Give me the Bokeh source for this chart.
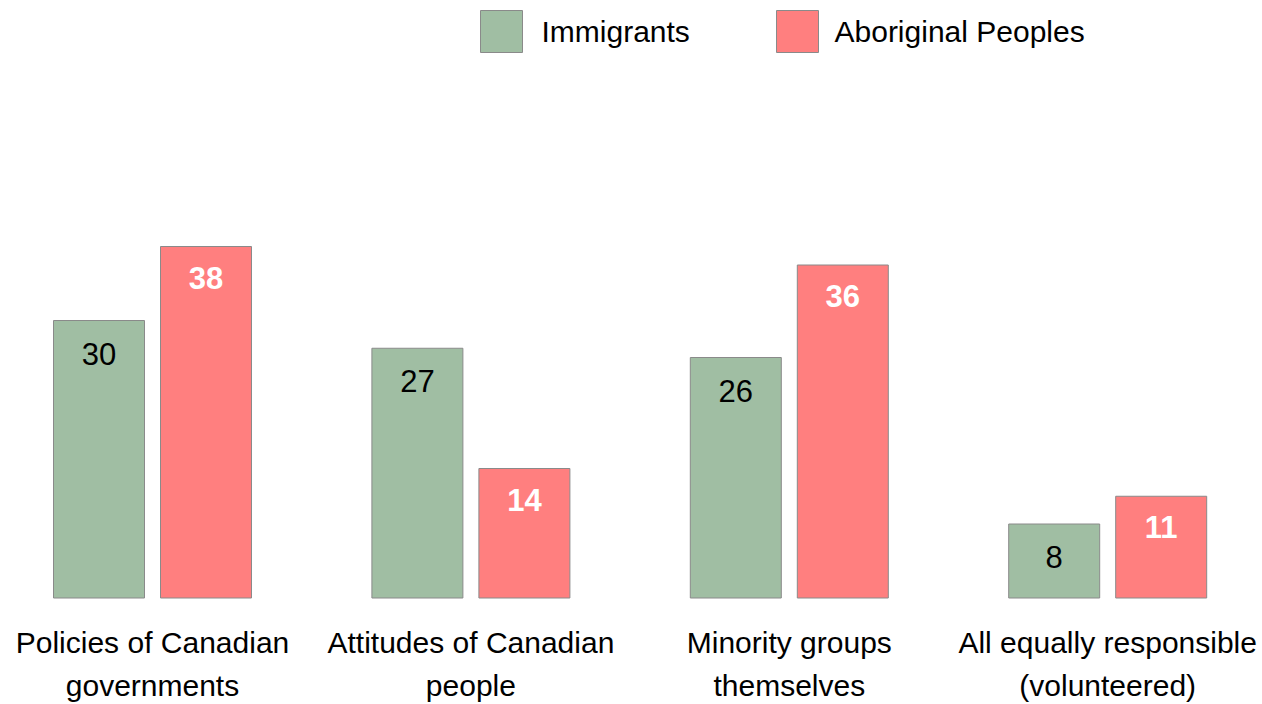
from bokeh.plotting import figure
from bokeh.models import ColumnDataSource, Range1d
from bokeh.embed import file_html
from bokeh.resources import INLINE
from bokeh.core.properties import value

categories = ["Policies of Canadian\ngovernments", "Attitudes of Canadian\npeople",
              "Minority groups\nthemselves", "All equally responsible\n(volunteered)"]
immigrants = [30, 27, 26, 8]
aboriginal = [38, 14, 36, 11]
series_names = ["Immigrants", "Aboriginal Peoples"]

FONT = "Liberation Sans"
GREEN = "#a0bea3"
RED = "#ff7f7f"
BORDER = "#8a8a8a"

W, H = 1262, 704
px_per_cat = 318.4
x0 = 152.0          # pixel x of first group centre
baseline = 597.5    # pixel y of bar bottoms
ppu = 9.25          # pixels per unit

xs = list(range(len(categories)))
off = 53.5 / px_per_cat
bw = 91.0 / px_per_cat

def px_to_x(px):
    return (px - x0) / px_per_cat

def py_to_y(py):
    return (baseline - py) / ppu

src = ColumnDataSource(dict(
    xg=[x - off for x in xs], xr=[x + off for x in xs],
    imm=immigrants, abo=aboriginal,
    imm_t=[str(v) for v in immigrants], abo_t=[str(v) for v in aboriginal],
    xc=xs, cat=categories, zero=[0] * len(xs),
))

p = figure(width=W, height=H, output_backend="svg", toolbar_location=None,
           x_range=Range1d(px_to_x(0), px_to_x(W)),
           y_range=Range1d(py_to_y(H), py_to_y(0)),
           min_border=0, outline_line_color=None)
p.axis.visible = False
p.grid.visible = False

p.vbar(x="xg", top="imm", bottom=0, width=bw, source=src,
       fill_color=GREEN, line_color=BORDER, line_width=1)
p.vbar(x="xr", top="abo", bottom=0, width=bw, source=src,
       fill_color=RED, line_color=BORDER, line_width=1)

p.text(x="xg", y="imm", text="imm_t", source=src, y_offset=33,
       text_align="center", text_baseline="middle",
       text_font=value(FONT), text_font_size="31px", text_color="black")
p.text(x="xr", y="abo", text="abo_t", source=src, y_offset=31,
       text_align="center", text_baseline="middle",
       text_font=value(FONT), text_font_size="31px", text_color="white",
       text_font_style="bold")

p.text(x="xc", y="zero", text="cat", source=src, y_offset=28,
       text_align="center", text_baseline="top", text_line_height=1.3,
       text_font=value(FONT), text_font_size="30px", text_color="black")

# legend (drawn manually to match box size/placement)
leg = ColumnDataSource(dict(
    bx=[px_to_x(501), px_to_x(797)], by=[py_to_y(31), py_to_y(31)],
    tx=[px_to_x(541), px_to_x(834)], col=[GREEN, RED], name=series_names,
))
p.rect(x="bx", y="by", width=42, height=42, width_units="screen",
       height_units="screen", fill_color="col", line_color=BORDER,
       line_width=1, source=leg)
p.text(x="tx", y="by", text="name", source=leg, text_align="left",
       text_baseline="middle", text_font=value(FONT),
       text_font_size="30px", text_color="black")

open("out.html", "w").write(file_html(p, INLINE))
